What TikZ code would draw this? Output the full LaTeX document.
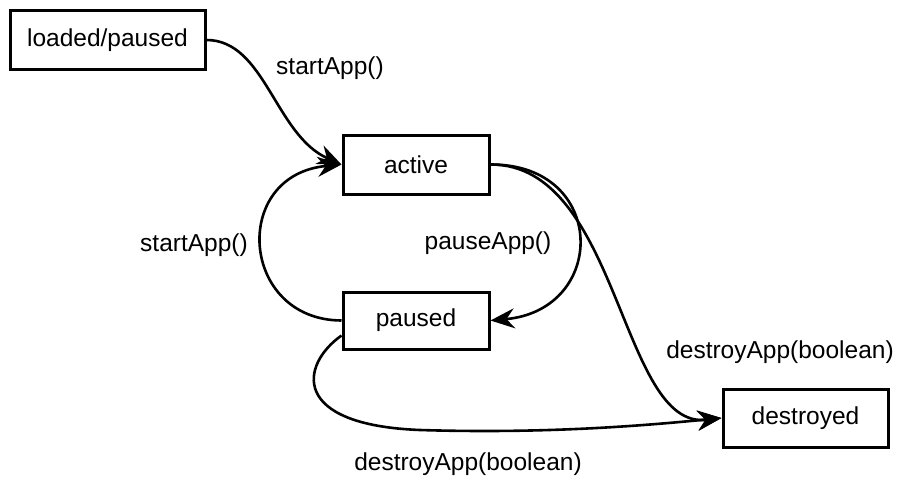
\documentclass[tikz,border=0pt]{standalone}
\usepackage{fontspec}
\setmainfont{Liberation Sans}
\usetikzlibrary{arrows.meta, positioning, calc}

\begin{document}
\begin{tikzpicture}[x=1pt, y=-1pt,
    state/.style={draw, line width=3pt, inner sep=0pt, font=\fontsize{24.5}{28}\selectfont},
    lbl/.style={inner sep=0pt, font=\fontsize{24.5}{28}\selectfont},
    trans/.style={line width=2.6pt, -{Stealth[length=24pt, width=20pt, inset=8pt]}}]
    \useasboundingbox (0,0) rectangle (899,480);

    \node[state, minimum width=195pt, minimum height=59pt] (loaded) at (107.5,40) {loaded/paused};
    \node[state, minimum width=146pt, minimum height=59pt] (active) at (416,164.5) {active};
    \node[state, minimum width=146pt, minimum height=57pt] (paused) at (416,320.5) {paused};
    \node[state, minimum width=165pt, minimum height=58pt] (destroyed) at (805.5,418) {destroyed};

    \draw[trans] (loaded.east) .. controls (265,40) and (275,135) .. (active.west);
    \draw[trans] (paused.west) .. controls (240,320) and (230,175) .. (active.west);
    \draw[trans] (active.east) .. controls (608,164) and (608,310) .. (paused.east);
    \draw[trans] (active.east) .. controls (620,164) and (620,430) .. (destroyed.west);
    \draw[trans] ([yshift=-15pt]paused.west) .. controls (300,365) and (290,425) .. (420,430)
        .. controls (550,434) and (650,425) .. (destroyed.west);

    \node[lbl] (start1) at (330,68) {startApp()};
    \node[lbl] (start2) at (194,245) {startApp()};
    \node[lbl] (pause) at (488,243) {pauseApp()};
    \node[lbl] (destroy1) at (780,352) {destroyApp(boolean)};
    \node[lbl] (destroy2) at (468,464) {destroyApp(boolean)};
\end{tikzpicture}
\end{document}
